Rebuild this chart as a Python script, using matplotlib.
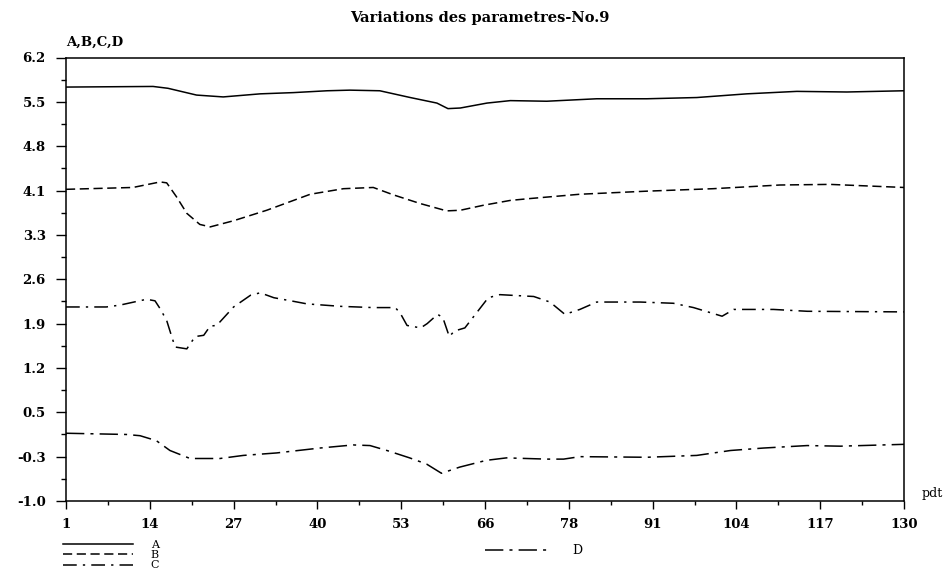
import matplotlib
matplotlib.use("Agg")
import matplotlib.pyplot as plt
import numpy as np

# ---- data ----
x_a = [1, 14.4, 16.7, 21.1, 25.2, 30.9, 36, 41.2, 44.7, 49.3, 54, 58.1, 59.8, 61.7, 65.8, 69.4,
       75, 82.7, 90.4, 98.1, 105.8, 113.5, 121.2, 130]
y_a = [5.72, 5.73, 5.70, 5.59, 5.56, 5.61, 5.63, 5.66, 5.67, 5.66, 5.55, 5.46, 5.37, 5.38, 5.46, 5.50,
       5.49, 5.53, 5.53, 5.55, 5.61, 5.65, 5.64, 5.66]

x_b = [1, 11.3, 15.5, 16.5, 18, 19.6, 21.6, 23.2, 26.8, 31.9, 38.6, 43.7, 48.3, 51.4, 55.5, 59.6,
       61.7, 65.2, 69.4, 72.4, 80.1, 90.4, 100.6, 110.9, 118.6, 130]
y_b = [4.06, 4.09, 4.18, 4.165, 3.94, 3.67, 3.49, 3.45, 3.55, 3.72, 3.98, 4.07, 4.09, 3.97, 3.83, 3.71,
       3.72, 3.80, 3.88, 3.91, 3.98, 4.03, 4.07, 4.13, 4.14, 4.09]

x_c = [1, 7.2, 9.3, 13.4, 14.7, 15.5, 16.5, 17.3, 17.8, 19.6, 20.1, 20.9, 22.2, 23.2, 24.2, 26.8,
       29.4, 30.9, 33, 35.6, 38.1, 43.3, 48.3, 51.7, 52.5, 53.5, 55.6, 56.6, 58.2, 59, 60, 60.8,
       62.4, 66, 67.8, 73, 75.5, 77.8, 80.1, 82.7, 89.4, 94.5, 97.6, 102, 103.8, 109.9, 115.1, 130]
y_c = [2.15, 2.15, 2.18, 2.275, 2.25, 2.12, 1.93, 1.66, 1.50, 1.47, 1.55, 1.67, 1.69, 1.84, 1.85, 2.15,
       2.34, 2.38, 2.30, 2.25, 2.20, 2.16, 2.14, 2.14, 2.04, 1.85, 1.81, 1.88, 2.03, 1.98, 1.67, 1.76,
       1.81, 2.30, 2.35, 2.32, 2.23, 2.03, 2.11, 2.23, 2.23, 2.21, 2.14, 2.00, 2.11, 2.11, 2.08, 2.07]

x_d = [1, 10.3, 12.4, 14.9, 17, 20.1, 24.7, 28.3, 33.4, 40.1, 45.2, 47.8, 50.4, 53.9, 56.5, 58.8,
       61.6, 65.7, 68.8, 75, 77.6, 80.1, 90.4, 98.1, 103.3, 108.4, 115.1, 120.2, 130]
y_d = [0.10, 0.08, 0.06, -0.02, -0.18, -0.31, -0.31, -0.26, -0.22, -0.14, -0.09, -0.10, -0.18, -0.30,
       -0.40, -0.55, -0.45, -0.34, -0.30, -0.32, -0.32, -0.28, -0.29, -0.26, -0.18, -0.14, -0.10, -0.11, -0.08]

x_tick_labels = ['1', '14', '27', '40', '53', '66', '78', '91', '104', '117', '130']
y_tick_labels = ['-1.0', '-0.3', '0.5', '1.2', '1.9', '2.6', '3.3', '4.1', '4.8', '5.5', '6.2']
series_names = ['A', 'B', 'C', 'D']
title = 'Variations des parametres-No.9'

# ---- figure ----
FONT = 'DejaVu Serif'
plt.rcParams['font.family'] = FONT
fig = plt.figure(figsize=(9.47, 5.73), dpi=100)
ax = fig.add_axes([66 / 947, 1 - 501 / 573, (904 - 66) / 947, (501 - 57.5) / 573])

lw = 1.1
la, = ax.plot(x_a, y_a, color='black', lw=lw, label=series_names[0])
lb, = ax.plot(x_b, y_b, color='black', lw=lw, dashes=(6, 3), label=series_names[1])
lc, = ax.plot(x_c, y_c, color='black', lw=lw, dashes=(9, 4, 1.5, 4), label=series_names[2])
ld, = ax.plot(x_d, y_d, color='black', lw=lw, dashes=(12, 4, 2, 4), label=series_names[3])

ax.set_xlim(1, 130)
ax.set_ylim(-1.0, 6.2)
xt = np.linspace(1, 130, len(x_tick_labels))
yt = np.linspace(-1.0, 6.2, len(y_tick_labels))
ax.set_xticks(xt)
ax.set_xticklabels(x_tick_labels)
ax.set_yticks(yt)
ax.set_yticklabels(y_tick_labels)
ax.set_xticks((xt[:-1] + xt[1:]) / 2, minor=True)
ax.set_yticks((yt[:-1] + yt[1:]) / 2, minor=True)
ax.tick_params(axis='y', which='major', direction='out', length=7.5, width=1, pad=7,
               labelsize=9.5)
ax.tick_params(axis='y', which='minor', direction='out', length=3.5, width=1)
ax.tick_params(axis='x', which='major', direction='out', length=6, width=1, pad=6,
               labelsize=9.5)
ax.tick_params(axis='x', which='minor', direction='out', length=3, width=1)
for lab in ax.get_xticklabels() + ax.get_yticklabels():
    lab.set_fontweight('bold')
for s in ax.spines.values():
    s.set_linewidth(1.1)

fig.text(480 / 947, 1 - 18 / 573, title, ha='center', va='center', fontsize=10.5,
         fontweight='bold')
fig.text(66 / 947, 1 - 42 / 573, 'A,B,C,D', ha='left', va='center', fontsize=9.5,
         fontweight='bold')
fig.text(922 / 947, 1 - 494 / 573, 'pdt', ha='left', va='center', fontsize=9)

leg1 = ax.legend(handles=[la, lb, lc], loc='upper left',
                 bbox_to_anchor=(63 / 947, 1 - 540 / 573), bbox_transform=fig.transFigure,
                 frameon=False, borderpad=0, borderaxespad=0, handlelength=6.3,
                 handletextpad=1.6, labelspacing=0.02, fontsize=8)
ax.add_artist(leg1)
ax.legend(handles=[ld], loc='upper left',
          bbox_to_anchor=(485 / 947, 1 - 544 / 573), bbox_transform=fig.transFigure,
          frameon=False, borderpad=0, borderaxespad=0, handlelength=5.2,
          handletextpad=1.8, fontsize=9)

fig.savefig('out.png', dpi=100)
